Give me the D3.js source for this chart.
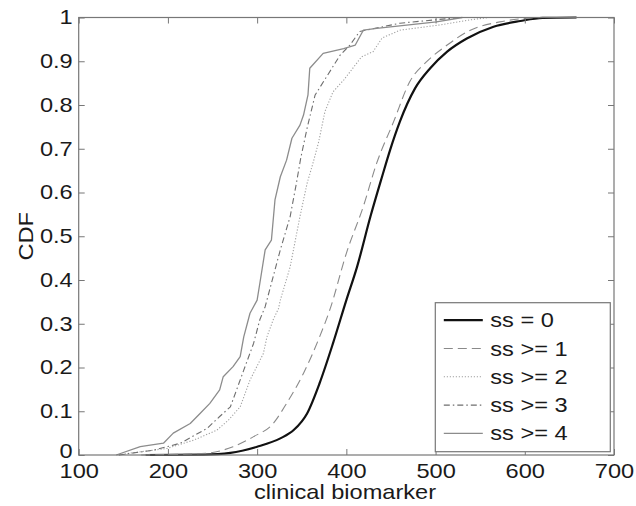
<!DOCTYPE html>
<html>
<head>
<meta charset="utf-8">
<script src="https://cdn.jsdelivr.net/npm/d3@7"></script>
<style>
  body { margin: 0; background: #fff; }
  svg { display: block; font-family: "Liberation Sans", Arial, sans-serif; }
</style>
</head>
<body>
<svg id="chart" width="636" height="506"></svg>
<script>
// Empirical CDF curves, [biomarker value, cumulative fraction]
const ss0 = [[175,0],[240,0.001],[270,0.005],[300,0.019],[326,0.038],[341,0.057],[356,0.095],[370,0.164],[385,0.255],[400,0.354],[412,0.43],[427,0.545],[440,0.636],[449,0.697],[460,0.762],[477,0.838],[494,0.884],[513,0.922],[535,0.952],[565,0.979],[595,0.992],[620,0.999],[658,1]];
const ss1 = [[170,0],[243,0.004],[273,0.019],[296,0.042],[318,0.072],[333,0.118],[352,0.187],[370,0.27],[382,0.335],[400,0.461],[419,0.568],[434,0.667],[453,0.762],[471,0.853],[490,0.899],[513,0.937],[539,0.971],[572,0.99],[600,0.998],[620,1]];
const ss2 = [[145,0],[160,0.005],[199,0.015],[229,0.034],[255,0.057],[268,0.08],[281,0.11],[292,0.171],[307,0.232],[311,0.27],[318,0.309],[324,0.335],[326,0.354],[337,0.43],[348,0.545],[356,0.621],[363,0.67],[369,0.716],[376,0.785],[385,0.83],[397,0.857],[417,0.91],[430,0.922],[440,0.953],[460,0.971],[505,0.983],[540,0.995],[560,1]];
const ss3 = [[145,0],[184,0.011],[214,0.027],[244,0.061],[258,0.088],[270,0.11],[277,0.149],[285,0.194],[296,0.255],[303,0.309],[309,0.339],[326,0.469],[337,0.545],[344,0.621],[349,0.68],[356,0.747],[365,0.823],[378,0.865],[393,0.914],[404,0.937],[415,0.968],[460,0.987],[527,1]];
const ss4 = [[142,0],[169,0.019],[195,0.027],[206,0.05],[225,0.072],[236,0.095],[247,0.118],[258,0.149],[262,0.179],[273,0.202],[281,0.225],[285,0.27],[292,0.324],[300,0.354],[303,0.392],[309,0.469],[316,0.491],[320,0.583],[326,0.636],[333,0.674],[339,0.724],[348,0.754],[352,0.777],[357,0.823],[359,0.884],[374,0.918],[397,0.929],[410,0.937],[419,0.971],[434,0.975],[452,0.979],[501,0.99],[530,1]];

const seriesNames = ['ss = 0', 'ss >= 1', 'ss >= 2', 'ss >= 3', 'ss >= 4'];
const xTicks = [100, 200, 300, 400, 500, 600, 700];
const yTicks = [0, 0.1, 0.2, 0.3, 0.4, 0.5, 0.6, 0.7, 0.8, 0.9, 1];

// line styles per series (the two big-sample curves are drawn smooth)
const styles = [
    { stroke: '#111', width: 2.2, dash: null, curve: d3.curveMonotoneX },
    { stroke: '#8a8a8a', width: 1.1, dash: '9,5', curve: d3.curveMonotoneX },
    { stroke: '#a0a0a0', width: 1.1, dash: '1.2,1.8', curve: d3.curveLinear },
    { stroke: '#6e6e6e', width: 1.1, dash: '6,3,1.5,3', curve: d3.curveLinear },
    { stroke: '#8c8c8c', width: 1.3, dash: null, curve: d3.curveLinear }
];

// the source picture has its lettering stretched sideways
const stretch = 1.18;
const fontSize = 20;

const svg = d3.select('#chart');
const margin = { top: 17.5, right: 22, bottom: 51, left: 78.7 };
const width = 636 - margin.left - margin.right;
const height = 506 - margin.top - margin.bottom;

const x = d3.scaleLinear().domain([100, 700]).range([0, width]);
const y = d3.scaleLinear().domain([0, 1]).range([height, 0]);

const g = svg.append('g').attr('transform', `translate(${margin.left},${margin.top})`);

const allSeries = [ss0, ss1, ss2, ss3, ss4];

g.append('g').selectAll('path')
    .data(allSeries)
    .join('path')
    .attr('d', (d, i) => d3.line().curve(styles[i].curve).x(p => x(p[0])).y(p => y(p[1]))(d))
    .attr('fill', 'none')
    .attr('stroke', (d, i) => styles[i].stroke)
    .attr('stroke-width', (d, i) => styles[i].width)
    .attr('stroke-dasharray', (d, i) => styles[i].dash)
    .attr('stroke-linejoin', 'round');

// MATLAB style box with inward ticks
function styleAxis(sel) {
    sel.select('.domain').remove();
    sel.selectAll('.tick line').attr('stroke', '#777');
    sel.selectAll('.tick text')
        .attr('fill', '#1a1a1a')
        .attr('font-size', fontSize + 'px')
        .attr('font-family', '"Liberation Sans", Arial, sans-serif')
        .attr('x', function() { return (+d3.select(this).attr('x') || 0) / stretch; })
        .attr('transform', `scale(${stretch},1)`);
}

const fmtY = d => d === 0 ? '0' : d === 1 ? '1' : d3.format('.1f')(d);

g.append('g')
    .attr('transform', `translate(0,${height})`)
    .call(d3.axisBottom(x).tickValues(xTicks).tickSizeInner(-6).tickSizeOuter(0).tickPadding(9))
    .call(styleAxis);

g.append('g')
    .call(d3.axisTop(x).tickValues(xTicks).tickSizeInner(-6).tickSizeOuter(0).tickFormat(''))
    .call(styleAxis);

const yAxis = g.append('g')
    .call(d3.axisLeft(y).tickValues(yTicks).tickSizeInner(-6).tickSizeOuter(0).tickPadding(6).tickFormat(fmtY))
    .call(styleAxis);

// lift the bottom "0" a touch so it clears the "100" below it
yAxis.selectAll('.tick text').filter(d => d === 0).attr('dy', '0.1em');

g.append('g')
    .attr('transform', `translate(${width},0)`)
    .call(d3.axisRight(y).tickValues(yTicks).tickSizeInner(-6).tickSizeOuter(0).tickFormat(''))
    .call(styleAxis);

g.append('rect')
    .attr('width', width)
    .attr('height', height)
    .attr('fill', 'none')
    .attr('stroke', '#777')
    .attr('stroke-width', 1.2);

// axis labels
g.append('text')
    .attr('transform', `translate(${345 - margin.left},${499 - margin.top}) scale(${stretch},1)`)
    .attr('text-anchor', 'middle')
    .attr('font-size', fontSize + 'px')
    .attr('fill', '#1a1a1a')
    .text('clinical biomarker');

g.append('text')
    .attr('transform', `translate(${33 - margin.left},${height / 2}) rotate(-90) scale(${stretch},1)`)
    .attr('text-anchor', 'middle')
    .attr('font-size', fontSize + 'px')
    .attr('fill', '#1a1a1a')
    .text('CDF');

// legend
const legend = g.append('g').attr('transform', `translate(${435.3 - margin.left},${302.7 - margin.top})`);
legend.append('rect')
    .attr('width', 175)
    .attr('height', 149)
    .attr('fill', '#fff')
    .attr('stroke', '#777')
    .attr('stroke-width', 1.2);

const items = legend.selectAll('.item')
    .data(seriesNames)
    .join('g')
    .attr('class', 'item')
    .attr('transform', (d, i) => `translate(0,${17.5 + i * 28.3})`);

items.append('line')
    .attr('x1', 8.5).attr('x2', 47.5)
    .attr('stroke', (d, i) => styles[i].stroke)
    .attr('stroke-width', (d, i) => styles[i].width)
    .attr('stroke-dasharray', (d, i) => styles[i].dash);

items.append('text')
    .attr('transform', `translate(55,0) scale(${stretch},1)`)
    .attr('dy', '0.35em')
    .attr('font-size', fontSize + 'px')
    .attr('fill', '#1a1a1a')
    .text(d => d);
</script>
</body>
</html>
